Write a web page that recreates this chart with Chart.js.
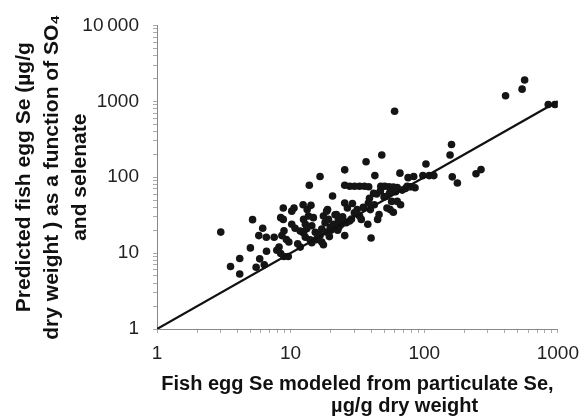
<!DOCTYPE html>
<html>
<head>
<meta charset="utf-8">
<script src="https://cdn.jsdelivr.net/npm/chart.js@4/dist/chart.umd.min.js"></script>
<style>
  html, body { margin: 0; padding: 0; background: #fff; }
  #wrap { width: 588px; height: 420px; }
</style>
</head>
<body>
<div id="wrap"><canvas id="seChart" width="588" height="420"></canvas></div>
<script>
// fish egg Se modeled from particulate Se (x) vs predicted from SO4 + selenate (y)
const eggSeModeled = [
  3.0, 3.55, 4.16, 4.16, 5.19, 5.0, 5.52, 5.87, 5.78, 6.18, 6.58, 6.6, 6.35, 7.53, 7.88, 8.19,
  8.43, 8.81, 8.81, 8.92, 8.6, 8.43, 8.9, 9.6, 9.3, 9.7, 10.2, 10.6, 10.8, 11.3, 11.8, 12.4,
  13.3, 14.2, 13.8, 16.6, 12.5, 12.9, 12.5, 12.9, 13.6, 14.4, 14.8, 14.4, 15.3, 16.2, 17.1, 17.6,
  17.6, 18.6, 18.9, 18.1, 17.1, 16.6, 19.2, 20.6, 22.0, 23.4, 25.4, 25.4, 25.4, 26.6, 25.4, 24,
  26.1, 27.6, 27.7, 30.1, 32.8, 35.7, 38.4, 31.5, 32.8, 33.8, 36.7, 38.2, 38.9, 39.5, 37.8, 40,
  41.8, 42.7, 42.3, 44.8, 45.9, 48.1, 47.3, 50.6, 54.5, 58.7, 62.8, 51.5, 52.6, 55.5, 58.7, 60,
  61, 62.8, 65.8, 66.5, 68.4, 72.3, 75.7, 74.5, 78.7, 83.4, 85.3, 97.7, 103, 109, 118, 160,
  156, 162, 177, 244, 266, 406, 540, 564, 847, 950,
  19.8, 21, 20, 18.5, 22.8, 24.5, 28.5, 30, 35, 29, 44, 47, 50, 55, 57, 21.5,
  10.2, 11.8, 13.2, 15.5, 19.5, 22.5, 14, 16, 23
];
const eggSePredicted = [
  18.9, 6.65, 8.5, 5.3, 27.6, 11.7, 6.5, 8.4, 17, 21.3, 16.2, 10.6, 7.0, 16.2, 10.9, 12.0,
  29.3, 39.3, 27.8, 19.7, 17, 9.9, 9.0, 9.0, 15.1, 14.0, 35.7, 39.3, 21.3, 13.3, 12.0, 43.4,
  37.4, 42.6, 78.5, 102, 27.8, 24, 18.4, 16.2, 30.8, 22.9, 29.3, 13.7, 18.8, 17, 14.0, 12.9,
  30.8, 35.7, 37.4, 25.2, 20.7, 17, 27.8, 56.6, 32.3, 26.5, 125, 78.5, 45.6, 39.3, 17, 24,
  25.2, 26.5, 76, 76, 76, 76, 75, 37.4, 30.8, 27.8, 160, 45.6, 52.9, 37.4, 24, 15.8,
  61.3, 105, 43.4, 27.8, 32.3, 196, 76, 76, 75, 74, 73, 55.6, 39.3, 37.4, 34.6, 738,
  64.5, 48, 113, 43.4, 67.6, 71.1, 98.6, 76, 74.6, 102, 72.6, 105, 149, 105, 105, 270,
  196, 101, 84, 111, 126, 1186, 1445, 1905, 908, 908,
  22, 24, 20, 19, 28, 30, 28, 34, 40, 45, 60, 66, 55, 62, 48, 32,
  24, 19.5, 21, 15, 16.5, 20, 15, 16, 22
];
// 1:1 line
const lineX = [1, 1000];
const lineY = [1, 1000];

const xTickLabels = ["1", "10", "100", "1000"];
const yTickLabels = ["1", "10", "100", "1000", "10\u2009000"];

function logTicks(max) {
  let out = [];
  for (let p = 1; p < max; p *= 10) {
    for (let m = 1; m < 10; m++) out.push({ value: m * p });
  }
  out.push({ value: max });
  return out;
}
function decadeLabel(labels) {
  return function (value) {
    let e = Math.log10(value);
    if (Math.abs(e - Math.round(e)) < 1e-9) return labels[Math.round(e)];
    return "";
  };
}

const points = eggSeModeled.map(function (x, i) { return { x: x, y: eggSePredicted[i] }; });
const line = lineX.map(function (x, i) { return { x: x, y: lineY[i] }; });

const ctx = document.getElementById("seChart").getContext("2d");

new Chart(ctx, {
  type: "scatter",
  data: {
    datasets: [
      {
        data: line,
        showLine: true,
        borderColor: "#111",
        borderWidth: 2.2,
        pointRadius: 0
      },
      {
        data: points,
        backgroundColor: "#151515",
        borderColor: "#151515",
        borderWidth: 0,
        pointRadius: 3.8
      }
    ]
  },
  options: {
    responsive: false,
    animation: false,
    layout: { padding: { top: 18, right: 25, left: 0, bottom: 0 } },
    plugins: { legend: { display: false }, tooltip: { enabled: false } },
    scales: {
      x: {
        type: "logarithmic",
        min: 1,
        max: 1000,
        afterFit: function (scale) { scale.height = 91; },
        afterBuildTicks: function (scale) { scale.ticks = logTicks(1000); },
        ticks: {
          autoSkip: false,
          maxRotation: 0,
          padding: 9,
          color: "#222",
          font: { family: "Liberation Sans, Arial, sans-serif", size: 19 },
          callback: decadeLabel(xTickLabels)
        },
        grid: { display: true, drawOnChartArea: false, tickLength: 4, tickColor: "#aaa" },
        border: { display: true, color: "#888", dash: [2, 2], width: 1 },
        title: {
          display: true,
          text: ["Fish egg Se modeled from particulate Se,", "\u00a0".repeat(17) + "\u00b5g/g dry weight"],
          color: "#111",
          font: { family: "Liberation Sans, Arial, sans-serif", size: 20, weight: "bold", lineHeight: 1.1 },
          padding: { top: 0, bottom: 3 }
        }
      },
      y: {
        type: "logarithmic",
        min: 1,
        max: 10000,
        afterFit: function (scale) { scale.width = 157; },
        afterBuildTicks: function (scale) { scale.ticks = logTicks(10000); },
        ticks: {
          autoSkip: false,
          padding: 14,
          color: "#222",
          font: { family: "Liberation Sans, Arial, sans-serif", size: 19 },
          callback: decadeLabel(yTickLabels)
        },
        grid: { display: true, drawOnChartArea: false, tickLength: 4, tickColor: "#aaa" },
        border: { display: true, color: "#888", dash: [2, 2], width: 1 },
        title: {
          display: true,
          text: ["Predicted fish egg Se (\u00b5g/g", "dry weight ) as a function of SO\u2084", "and selenate"],
          color: "#111",
          font: { family: "Liberation Sans, Arial, sans-serif", size: 21, weight: "bold", lineHeight: 1.33 },
          padding: { top: 10, bottom: 0 }
        }
      }
    }
  }
});
</script>
</body>
</html>
